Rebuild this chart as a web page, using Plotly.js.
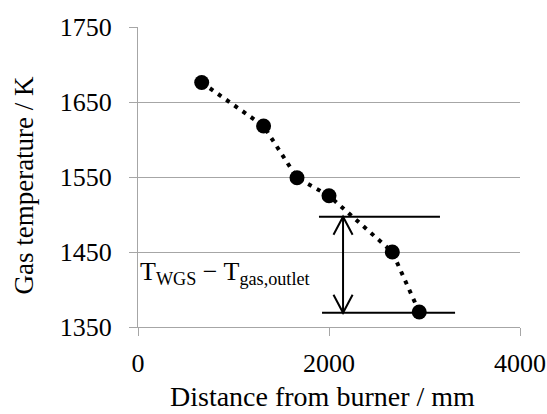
<!DOCTYPE html>
<html>
<head>
<meta charset="utf-8">
<script src="https://cdn.plot.ly/plotly-3.0.1.min.js"></script>
<style>html,body{margin:0;padding:0;background:#fff}#chart{width:547px;height:414px}</style>
</head>
<body>
<div id="chart"></div>
<script>
// Data
const distance = [667, 1315, 1665, 2000, 2663, 2945];
const gasTemp = [1676, 1618, 1549, 1525, 1450, 1370];
const yTicks = [1350, 1450, 1550, 1650, 1750];
const xTicks = [0, 2000, 4000];
// Annotation levels
const wgsLevel = 1497;
const outletLevel = 1369;
const wgsLineX = [1895, 3162];
const outletLineX = [1927, 3320];
const arrowX = 2147;
const labelText = 'T<sub>WGS</sub> − T<sub>gas,outlet</sub>';
const xTitle = 'Distance from burner / mm';
const yTitle = 'Gas temperature / K';

const FONT = 'Liberation Serif, DejaVu Serif, serif';
const headDx = 100, headDy = 24;

const shapes = [
  {type:'line', xref:'x', yref:'y', x0:wgsLineX[0], x1:wgsLineX[1], y0:wgsLevel, y1:wgsLevel, line:{color:'#000', width:2}},
  {type:'line', xref:'x', yref:'y', x0:outletLineX[0], x1:outletLineX[1], y0:outletLevel, y1:outletLevel, line:{color:'#000', width:2}},
  {type:'line', xref:'x', yref:'y', x0:arrowX, x1:arrowX, y0:wgsLevel, y1:outletLevel, line:{color:'#000', width:2}},
  {type:'path', xref:'x', yref:'y',
   path:`M ${arrowX-headDx} ${wgsLevel-headDy} L ${arrowX} ${wgsLevel} L ${arrowX+headDx} ${wgsLevel-headDy}`,
   line:{color:'#000', width:2}},
  {type:'path', xref:'x', yref:'y',
   path:`M ${arrowX-headDx} ${outletLevel+headDy} L ${arrowX} ${outletLevel} L ${arrowX+headDx} ${outletLevel+headDy}`,
   line:{color:'#000', width:2}}
];

const trace = {
  x: distance, y: gasTemp, type:'scatter', mode:'lines+markers',
  line:{color:'#000', width:4, dash:'4px,6px'},
  marker:{color:'#000', size:15},
  cliponaxis:false
};

const layout = {
  width:547, height:414,
  margin:{l:138, r:27, t:27, b:87},
  paper_bgcolor:'#fff', plot_bgcolor:'#fff',
  showlegend:false,
  font:{family:FONT, color:'#000', size:26},
  xaxis:{
    range:[0,4000], tickvals:xTicks, ticktext:xTicks.map(String),
    showgrid:false, zeroline:false, showline:true, linecolor:'#a6a6a6', linewidth:1,
    ticks:'outside', ticklen:8, tickcolor:'#a6a6a6', ticklabelstandoff:5,
    tickfont:{family:FONT, size:26, color:'#000'},
    automargin:false, fixedrange:true
  },
  yaxis:{
    range:[1350,1750], tickvals:yTicks, ticktext:yTicks.map(String),
    showgrid:true, gridcolor:'#a6a6a6', gridwidth:1, zeroline:false,
    showline:true, linecolor:'#a6a6a6', linewidth:1,
    ticks:'outside', ticklen:8, tickcolor:'#a6a6a6', ticklabelstandoff:12,
    tickfont:{family:FONT, size:26, color:'#000'},
    automargin:false, fixedrange:true
  },
  shapes: shapes,
  annotations:[
    {x:0, y:1422, xref:'x', yref:'y', xanchor:'left', yanchor:'middle', showarrow:false,
     text:labelText, font:{family:FONT, size:26, color:'#000'}},
    {x:0.482, y:-0.232, xref:'paper', yref:'paper', xanchor:'center', yanchor:'middle', showarrow:false,
     text:xTitle, font:{family:FONT, size:28, color:'#000'}, borderpad:0},
    {x:-0.298, y:0.472, xref:'paper', yref:'paper', xanchor:'center', yanchor:'middle', showarrow:false,
     textangle:-90, text:yTitle, font:{family:FONT, size:27, color:'#000'}}
  ]
};

Plotly.newPlot('chart', [trace], layout, {displayModeBar:false, staticPlot:true});
</script>
</body>
</html>
